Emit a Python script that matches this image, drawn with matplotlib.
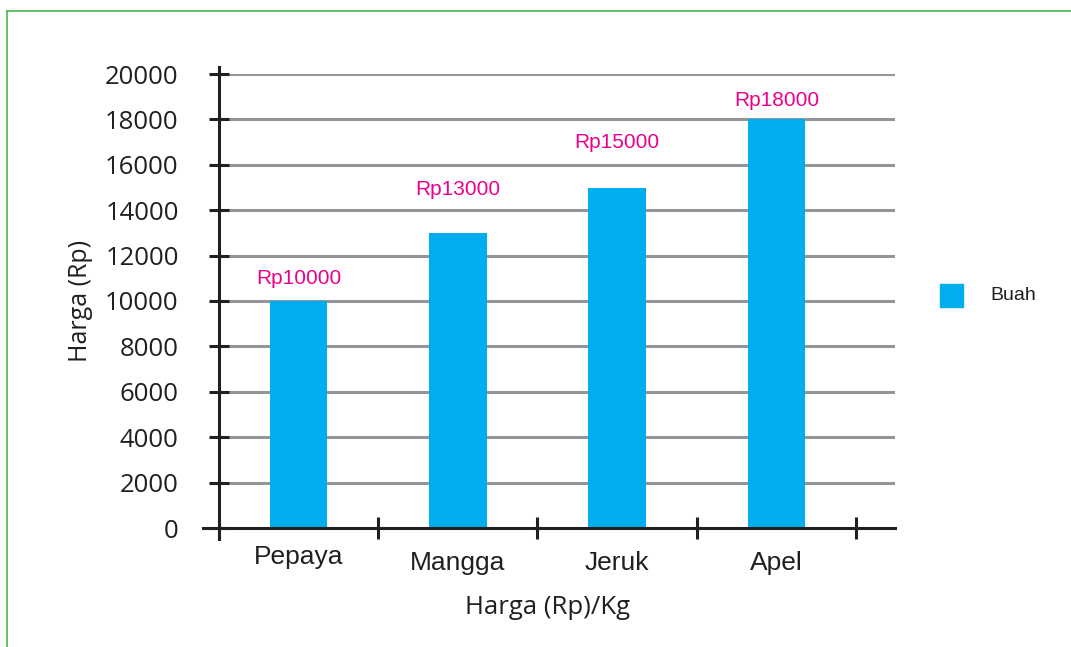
import matplotlib.pyplot as plt
from matplotlib.lines import Line2D
from matplotlib.patches import Rectangle

buah = ["Pepaya", "Mangga", "Jeruk", "Apel"]
harga = [10000, 13000, 15000, 18000]
label_harga = ["Rp10000", "Rp13000", "Rp15000", "Rp18000"]
y_ticks = list(range(0, 20001, 2000))

BLUE = "#00AEEF"
PINK = "#EC008C"
INK = "#231F20"
GRID = "#939598"
GREEN = "#4CB848"
ARIAL = ["Liberation Sans", "DejaVu Sans"]

plt.rcParams["font.family"] = ["Open Sans", "DejaVu Sans"]

fig = plt.figure(figsize=(10.71, 6.47), dpi=100)
ax = fig.add_axes([219 / 1071, 1 - 528 / 647, (895 - 219) / 1071, (528 - 74) / 647])

# frame lines on the page
fig.add_artist(Line2D([7 / 1071, 7 / 1071], [0, 1 - 11 / 647], color=GREEN, lw=1.2))
fig.add_artist(Line2D([7 / 1071, 1], [1 - 11 / 647, 1 - 11 / 647], color=GREEN, lw=1.2))

x = list(range(len(buah)))
ax.bar(x, harga, width=0.36, color=BLUE, zorder=3)

ax.set_xlim(-0.5, 3.745)
ax.set_ylim(0, 20000)

for v in y_ticks[1:]:
    ax.axhline(v, color=GRID, lw=2.2, zorder=1)

for s in ax.spines.values():
    s.set_visible(False)

# axis lines reaching slightly past the plot area
ax.plot([-16 / 676, 1], [0, 0], transform=ax.transAxes, color=INK, lw=2.2,
        clip_on=False, zorder=4)
ax.plot([0, 0], [-11 / 454, 1 + 7 / 454], transform=ax.transAxes, color=INK, lw=2.2,
        clip_on=False, zorder=4)

ax.set_yticks(y_ticks)
ax.set_yticklabels([str(v) for v in y_ticks], fontsize=18.5, color=INK)
ax.tick_params(axis="y", direction="inout", length=14, width=2.2, color=INK, pad=22)

ax.set_xticks([-0.5, 0.5, 1.5, 2.5, 3.5])
ax.set_xticklabels([])
ax.tick_params(axis="x", direction="inout", length=16, width=2.2, color=INK)

# category names under the axis
name_drop = [29, 35, 35, 35]
for xi, name, drop in zip(x, buah, name_drop):
    ax.text(xi, -drop / 454, name, transform=ax.get_xaxis_transform(),
            ha="center", va="center", fontsize=19, color=INK, family=ARIAL)

# price labels above each bar
label_gap = [23, 43, 45, 19]
for xi, h, txt, gap in zip(x, harga, label_harga, label_gap):
    ax.annotate(txt, (xi, h), xytext=(0, gap), textcoords="offset pixels",
                ha="center", va="center", color=PINK, fontsize=15, family=ARIAL)

ax.set_ylabel("Harga (Rp)", fontsize=18, color=INK, labelpad=9)
ax.set_xlabel("Harga (Rp)/Kg", fontsize=18.5, color=INK, va="center")
ax.xaxis.set_label_coords((548 - 219) / 676, -(607 - 528) / 454)

# legend
fig.add_artist(Rectangle((940 / 1071, 1 - 307 / 647), 23 / 1071, 23 / 647,
                         transform=fig.transFigure, color=BLUE))
fig.text(990 / 1071, 1 - 295 / 647, "Buah", fontsize=14, color=INK, va="center",
         family=ARIAL)

fig.savefig("out.png", dpi=100)
